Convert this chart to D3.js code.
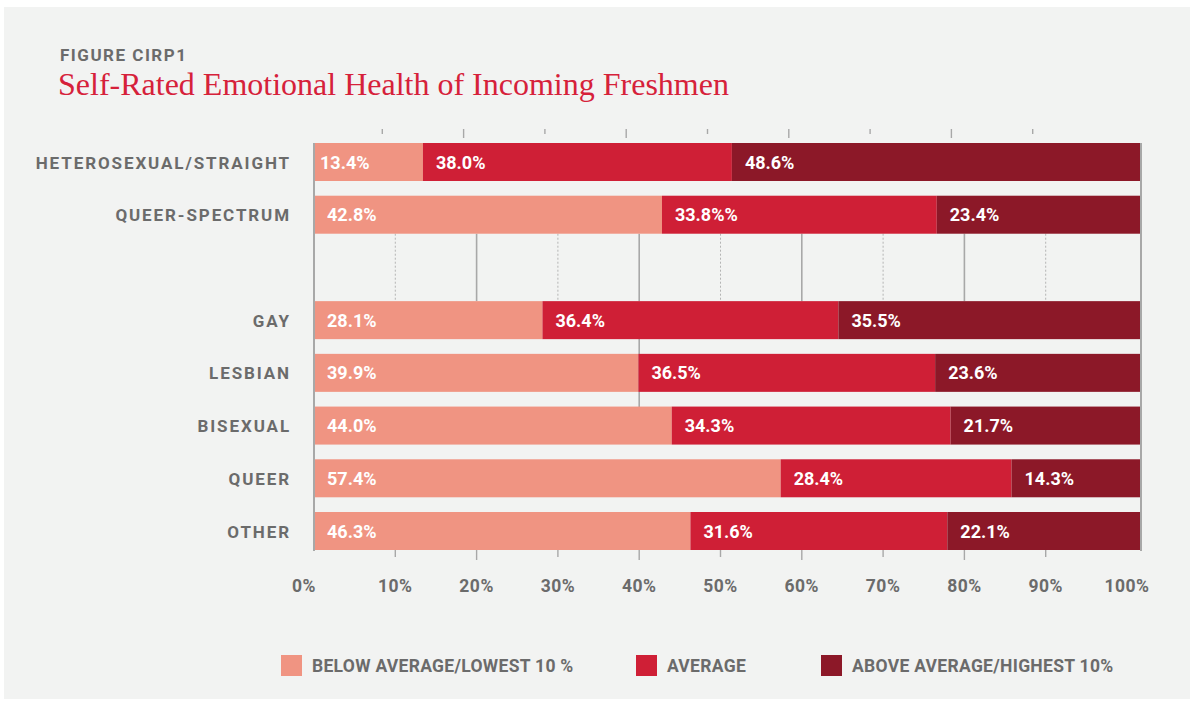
<!DOCTYPE html>
<html>
<head>
<meta charset="utf-8">
<script src="https://cdn.jsdelivr.net/npm/d3@7"></script>
<style>
  body { margin: 0; background: #fff; }
  svg { display: block; }
  .cat { font-family: Roboto, "Open Sans", sans-serif; font-weight: 700; fill: #6b6b6b; }
  .val { font-family: Roboto, "Open Sans", sans-serif; font-weight: 700; fill: #fff; }
</style>
</head>
<body>
<svg id="chart" width="1198" height="703"></svg>
<script>
// categories in drawing order; "" marks the empty spacer row
const categories = ["HETEROSEXUAL/STRAIGHT", "QUEER-SPECTRUM", "", "GAY", "LESBIAN", "BISEXUAL", "QUEER", "OTHER"];
const seriesNames = ["BELOW AVERAGE/LOWEST 10 %", "AVERAGE", "ABOVE AVERAGE/HIGHEST 10%"];
const belowAvg = [13.4, 42.8, null, 28.1, 39.9, 44.0, 57.4, 46.3];
const average  = [38.0, 33.8, null, 36.4, 36.5, 34.3, 28.4, 31.6];
const aboveAvg = [48.6, 23.4, null, 35.5, 23.6, 21.7, 14.3, 22.1];
const tickValues = [0, 10, 20, 30, 40, 50, 60, 70, 80, 90, 100];
const colors = ["#f09482", "#cf1f36", "#8c1828"];

const svg = d3.select("#chart");

// panel
svg.append("rect").attr("x", 4).attr("y", 7).attr("width", 1186).attr("height", 692).attr("fill", "#f2f3f2");

svg.append("text").attr("x", 60).attr("y", 61)
  .style("font-family", "Roboto, sans-serif").style("font-weight", 700).style("font-size", "17px")
  .style("letter-spacing", "1.5px").style("fill", "#6b6b6b")
  .text("FIGURE CIRP1");

svg.append("text").attr("x", 58).attr("y", 95)
  .style("font-family", "'Liberation Serif', 'DejaVu Serif', serif").style("font-size", "32px")
  .style("fill", "#d6213a")
  .text("Self-Rated Emotional Health of Incoming Freshmen");

/* ---------- scales ---------- */
const x = d3.scaleLinear().domain([0, 100]).range([314, 1127]);
// in the original the right frame sits a little past 100% and the last segment runs to it
const frameRight = 1140;
const y = d3.scalePoint().domain(d3.range(categories.length)).range([162, 531]);
const barH = 38;

const rows = categories.map((c, i) => {
  const vals = [belowAvg[i], average[i], aboveAvg[i]];
  let acc = 0;
  return { cat: c, i, segs: vals[0] == null ? [] : vals.map((v, k) => {
    const s = { k, v, x0: acc, x1: acc + v };
    acc += v;
    return s;
  }) };
});

const plotTop = y(0) - barH / 2, plotBottom = y(categories.length - 1) + barH / 2;

/* ---------- gridlines in the spacer row ---------- */
const gapTop = y(1) + barH / 2, gapBot = y(3) - barH / 2;
const inner = tickValues.filter(t => t > 0 && t < 100);
svg.append("g").selectAll("line").data(inner).join("line")
  .attr("x1", d => x(d)).attr("x2", d => x(d))
  .attr("y1", gapTop).attr("y2", gapBot)
  .attr("stroke", d => d % 20 === 0 ? "#a8a8a8" : "#b4b4b4")
  .attr("stroke-width", d => d % 20 === 0 ? 1.6 : 1)
  .attr("stroke-dasharray", d => d % 20 === 0 ? null : "2,2");

// the 40% line peeks through between gay / lesbian / bisexual
svg.append("line")
  .attr("x1", x(40)).attr("x2", x(40))
  .attr("y1", y(3)).attr("y2", y(5))
  .attr("stroke", "#a8a8a8").attr("stroke-width", 1.6);

// top ticks (shifted left in the original)
svg.append("g").selectAll("line").data(inner).join("line")
  .attr("x1", d => x(d) - 13).attr("x2", d => x(d) - 13)
  .attr("y1", plotTop - 14).attr("y2", d => d % 20 === 0 ? plotTop - 5 : plotTop - 9)
  .attr("stroke", "#a8a8a8").attr("stroke-width", 1.4);

// bottom ticks
svg.append("g").selectAll("line").data(inner).join("line")
  .attr("x1", d => x(d)).attr("x2", d => x(d))
  .attr("y1", plotBottom).attr("y2", d => d % 20 === 0 ? plotBottom + 10 : plotBottom + 7)
  .attr("stroke", "#a8a8a8").attr("stroke-width", 1.4);

/* ---------- bars ---------- */
const rowG = svg.append("g").selectAll("g").data(rows.filter(r => r.segs.length)).join("g")
  .attr("transform", d => `translate(0,${y(d.i) - barH / 2})`);

rowG.selectAll("rect").data(d => d.segs).join("rect")
  .attr("x", d => x(d.x0))
  .attr("width", d => (d.k === 2 ? frameRight : x(d.x1)) - x(d.x0))
  .attr("y", 0).attr("height", barH)
  .attr("fill", d => colors[d.k]);

rowG.selectAll("text.val").data(d => d.segs.map(s => ({ ...s, cat: d.cat }))).join("text")
  .attr("class", "val")
  .attr("x", d => x(d.x0) + (d.k === 0 && d.cat.startsWith("HETERO") ? 6 : 13))
  .attr("y", barH / 2 + 6.5)
  .style("font-size", "18px")
  .text(d => d.cat === "QUEER-SPECTRUM" && d.k === 1 ? d.v.toFixed(1) + "%%" : d.v.toFixed(1) + "%");

/* ---------- axis frame ---------- */
svg.append("line").attr("x1", x(0)).attr("x2", x(0)).attr("y1", plotTop).attr("y2", plotBottom + 1)
  .attr("stroke", "#a8a8a8").attr("stroke-width", 2);
svg.append("line").attr("x1", frameRight + 1).attr("x2", frameRight + 1).attr("y1", plotTop).attr("y2", plotBottom + 1)
  .attr("stroke", "#a8a8a8").attr("stroke-width", 2);

/* ---------- category labels ---------- */
svg.append("g").selectAll("text").data(rows.filter(r => r.cat)).join("text")
  .attr("class", "cat")
  .attr("x", 291).attr("y", d => y(d.i) + 6.5)
  .attr("text-anchor", "end")
  .style("font-size", "17px").style("letter-spacing", "1.9px")
  .text(d => d.cat);

/* ---------- x tick labels ---------- */
svg.append("g").selectAll("text").data(tickValues).join("text")
  .attr("class", "cat")
  .attr("x", d => d === 0 ? x(d) + 2 : x(d))
  .attr("y", 592)
  .attr("text-anchor", d => d === 0 ? "end" : "middle")
  .style("font-size", "17.5px").style("letter-spacing", "0.5px")
  .text(d => d + "%");

/* ---------- legend ---------- */
const legendX = [281, 636, 821];
const leg = svg.append("g").selectAll("g").data(seriesNames).join("g")
  .attr("transform", (d, i) => `translate(${legendX[i]},655)`);
leg.append("rect").attr("width", 21).attr("height", 21).attr("fill", (d, i) => colors[i]);
leg.append("text").attr("class", "cat")
  .attr("x", 31).attr("y", 17)
  .style("font-size", "17.5px").style("letter-spacing", "0.3px")
  .text(d => d);
</script>
</body>
</html>
